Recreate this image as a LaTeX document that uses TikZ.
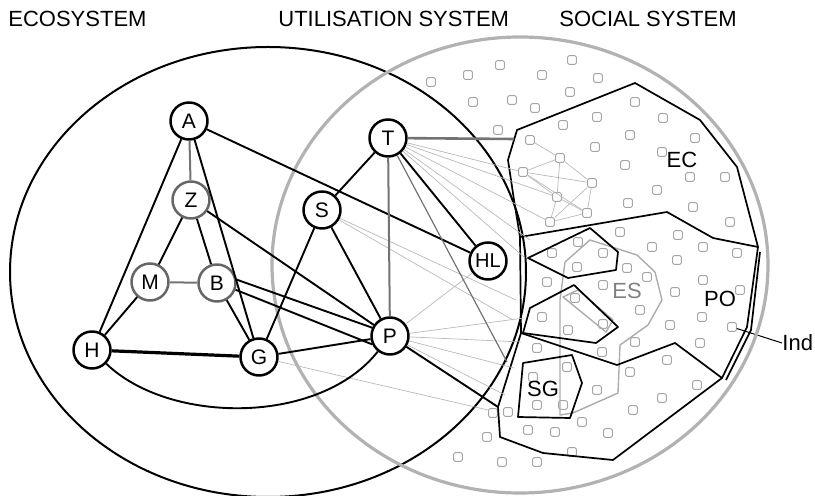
\documentclass[tikz,border=0pt]{standalone}
\usepackage{fontspec}
\setmainfont{Liberation Sans}
\usetikzlibrary{positioning}
\begin{document}
\begin{tikzpicture}[x=0.5pt,y=-0.5pt,font=\fontsize{10.5}{12}\selectfont,line join=round]
\tikzstyle{actor} = [circle, draw, line width=1.25pt, fill=white, inner sep=0pt, minimum size=18.5pt]
\tikzstyle{weak} = [actor, draw=black!60]
\tikzstyle{tie} = [draw, line width=0.95pt]
\tikzstyle{graytie} = [draw=black!55, line width=1pt]
\tikzstyle{flow} = [draw=gray!55, line width=0.35pt]
\tikzstyle{group} = [draw, line width=0.85pt]
\tikzstyle{ggroup} = [draw=gray!65, line width=0.7pt]
\tikzstyle{indiv} = [rectangle, draw=gray!70, rounded corners=0.8pt, minimum size=4.4pt, inner sep=0pt, line width=0.45pt, fill=white]
\tikzstyle{title} = [font=\fontsize{11}{13}\selectfont, anchor=base west, inner sep=0pt]
\tikzstyle{grouplabel} = [font=\fontsize{11}{13}\selectfont, inner sep=0pt]
\useasboundingbox (0,0) rectangle (815,496);

\node[title] (eco) at (8,27) {ECOSYSTEM};
\node[title] (util) at (278,27) {UTILISATION SYSTEM};
\node[title] (soc) at (559,27) {SOCIAL SYSTEM};

\foreach \px/\py in {431/82,468/75,500/65,542/75,572/60,598/78,473/102,512/100,570/92,535/108,498/130,
  597/117,563/125,635/102,663/118,630/135,595/147,695/138,662/152,625/165,690/177,725/177,657/190,
  628/203,693/207,730/222,620/232,678/235,578/242,652/247,703/247,737/253,552/253,603/253,627/268,
  577/267,677/260,647/277,547/282,703/280,675/292,603/285,740/290,575/298,542/317,640/310,670/325,
  702/317,603/324,635/342,700/343,568/330,537/348,602/352,567/367,667/360,630/372,597/390,697/385,
  533/377,537/405,563/405,662/398,508/412,633/410,582/422,528/430,555/432,608/433,493/413,487/437,
  572/452,458/457,502/462,537/462}
  \node[indiv] at (\px,\py) {};

\node[indiv] (n1) at (530,140) {};
\node[indiv] (n2) at (560,158) {};
\node[indiv] (n3) at (523,172) {};
\node[indiv] (n4) at (592,183) {};
\node[indiv] (n5) at (557,197) {};
\node[indiv] (n6) at (587,213) {};
\node[indiv] (n7) at (550,222) {};
\node[indiv] (ind) at (732,327) {};
\foreach \a/\b in {n1/n2,n3/n2,n3/n4,n3/n5,n3/n6,n2/n4,n2/n5,n4/n6,n5/n6,n5/n7,n7/n6,n4/n7}
  \draw[flow] (\a) -- (\b);

\draw[ggroup] (565,262) -- (590,240) -- (637,255) -- (655,272) -- (662,300) -- (648,325) -- (620,345)
  -- (618,393) -- (573,413) -- (560,415) -- (560,300) -- cycle;
\draw[ggroup] (563,297) -- (578,290) -- (613,320) -- (606,332) -- cycle;
\draw[group] (517,130) -- (635,83) -- (700,120) -- (737,167) -- (758,247) -- (713,238) -- (667,212)
  -- (520,237) -- (514,200) -- (508,160) -- cycle;
\draw[group] (520,237) -- (521,333) -- (617,365) -- (675,343) -- (722,378) -- (747,327) -- (758,247);
\draw[group] (760,252) -- (751,330) -- (726,380);
\draw[group] (521,333) -- (498,407) -- (500,437) -- (543,453) -- (613,460) -- (722,378);
\draw[group] (528,258) -- (590,228) -- (618,252) -- (616,270) -- (568,278) -- cycle;
\draw[group] (530,308) -- (574,285) -- (618,327) -- (596,343) -- (523,333) -- cycle;
\draw[group] (523,363) -- (572,355) -- (582,383) -- (570,418) -- (518,417) -- cycle;

\node[grouplabel] (ec) at (682,160) {EC};
\node[grouplabel] (po) at (720,299) {PO};
\node[grouplabel, text=gray] (es) at (627,291) {ES};
\node[grouplabel] (sg) at (543,389) {SG};
\node[grouplabel, anchor=west] (indl) at (782,343) {Ind};
\draw[line width=0.5pt] (ind) -- (indl.west);

\draw[line width=1pt] (268,272) ellipse [x radius=258, y radius=225];
\draw[draw=gray!60, line width=1.6pt] (520,265) ellipse [x radius=248, y radius=228];

\node[actor] (A) at (189,121) {A};
\node[weak] (Z) at (191,200) {Z};
\node[weak] (M) at (150,282) {M};
\node[weak] (B) at (217,283) {B};
\node[actor] (H) at (92,350) {H};
\node[actor] (G) at (259,357) {G};
\node[actor] (S) at (322,210) {S};
\node[actor] (T) at (388,138) {T};
\node[actor, font=\fontsize{10}{12}\selectfont] (HL) at (488,261) {HL};
\node[actor] (P) at (390,336) {P};

\coordinate (ecT) at (514,139);
\coordinate (tlow) at (507,362);
\coordinate (lowA) at (498,407);
\coordinate (tf1) at (530,240);
\coordinate (tf2) at (525,258);
\coordinate (sf1) at (516,300);
\coordinate (sf2) at (513,320);
\coordinate (pf2) at (524,318);
\coordinate (pf3) at (521,342);
\coordinate (pf4) at (514,368);
\coordinate (pf5) at (505,395);
\coordinate (gf1) at (488,410);

\foreach \e in {n3,n5,n7,tf1,tf2}
  \draw[flow] (T) -- (\e);
\foreach \e in {sf1,sf2}
  \draw[flow] (S) -- (\e);
\foreach \e in {HL,pf2,pf3,pf4,pf5}
  \draw[flow] (P) -- (\e);
\draw[flow] (G) -- (gf1);

\draw[graytie] (A) -- (Z);
\draw[tie] (A) -- (H);
\draw[tie] (A) -- (G);
\draw[tie] (A) -- (HL);
\draw[tie] (Z) -- (M);
\draw[tie] (Z) -- (B);
\draw[tie] (Z) -- (P);
\draw[graytie] (M) -- (B);
\draw[tie] (M) -- (H);
\draw[tie] (B) -- (G);
\draw[tie] (B.10) -- (P.155);
\draw[tie] (B.-20) -- (P.205);
\draw[tie, line width=1.6pt] (H) -- (G);
\draw[tie] (H) .. controls (170,425) and (320,425) .. (P);
\draw[tie] (G) -- (S);
\draw[tie] (G) -- (P);
\draw[tie] (S) -- (T);
\draw[tie] (S) -- (P);
\draw[graytie] (T) -- (P);
\draw[tie] (T) -- (HL);
\draw[graytie, line width=1.3pt] (T) -- (ecT);
\draw[draw=black!55, line width=0.6pt] (T) -- (tlow);
\draw[tie] (P) -- (lowA);

\end{tikzpicture}
\end{document}
